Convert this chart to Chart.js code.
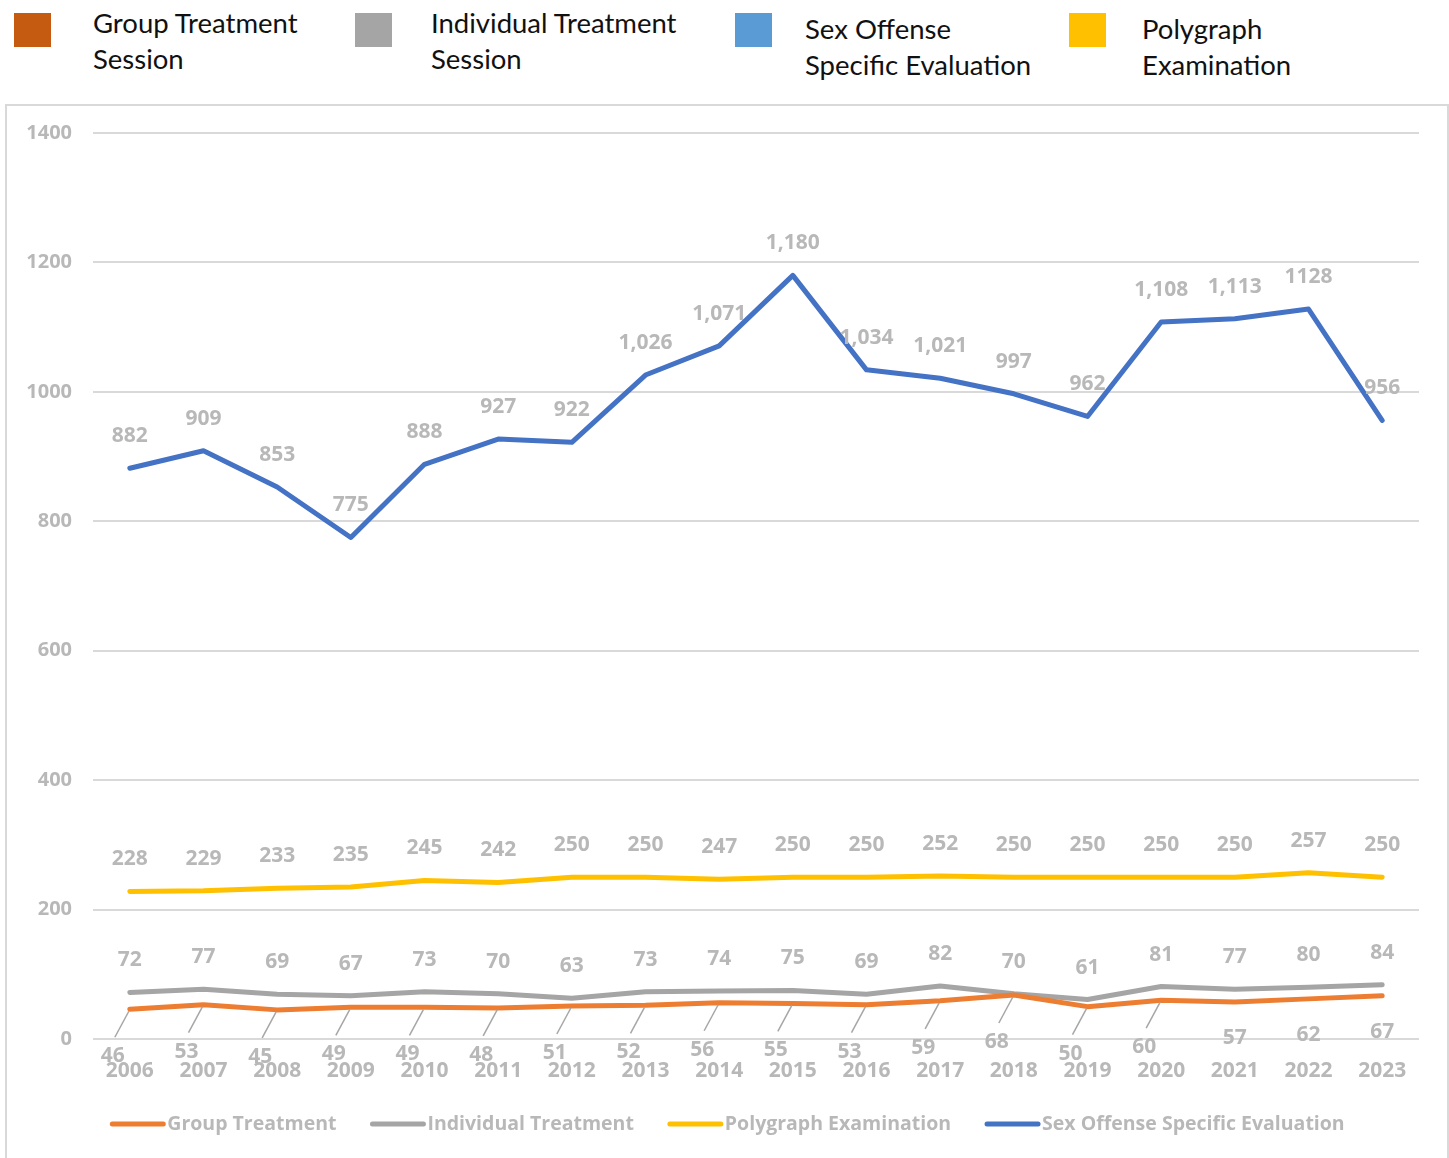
<!DOCTYPE html>
<html>
<head>
<meta charset="utf-8">
<script src="https://cdn.jsdelivr.net/npm/chart.js@4.4.1/dist/chart.umd.min.js"></script>
<style>
  html, body { margin: 0; padding: 0; background: #fff; overflow: hidden; width: 1449px; height: 1158px; }
  .key { position: absolute; font-family: Lato, 'Open Sans', sans-serif; font-size: 27.5px; line-height: 36px; color: #111; }
  .sw { position: absolute; width: 37px; height: 34px; }
  #box { position: absolute; left: 5px; top: 104px; width: 1440px; height: 1080px; border: 2px solid #d9d9d9; }
  #wrap { position: relative; width: 1440px; height: 1080px; }
</style>
</head>
<body>
<div class="sw" style="left:14px;top:13px;background:#C55A11"></div>
<div class="key" style="left:93px;top:5px">Group Treatment<br>Session</div>
<div class="sw" style="left:355px;top:13px;background:#A5A5A5"></div>
<div class="key" style="left:431px;top:5px">Individual Treatment<br>Session</div>
<div class="sw" style="left:735px;top:13px;background:#5B9BD5"></div>
<div class="key" style="left:805px;top:11px">Sex Offense<br>Specific Evaluation</div>
<div class="sw" style="left:1069px;top:13px;background:#FFC000"></div>
<div class="key" style="left:1142px;top:11px">Polygraph<br>Examination</div>

<div id="box"><div id="wrap"><canvas id="trendChart"></canvas></div></div>

<script>
const years = ['2006', '2007', '2008', '2009', '2010', '2011', '2012', '2013', '2014', '2015',
  '2016', '2017', '2018', '2019', '2020', '2021', '2022', '2023'];
const groupTreatment = [46, 53, 45, 49, 49, 48, 51, 52, 56, 55, 53, 59, 68, 50, 60, 57, 62, 67];
const individualTreatment = [72, 77, 69, 67, 73, 70, 63, 73, 74, 75, 69, 82, 70, 61, 81, 77, 80, 84];
const polygraph = [228, 229, 233, 235, 245, 242, 250, 250, 247, 250, 250, 252, 250, 250, 250, 250, 257, 250];
const evaluation = [882, 909, 853, 775, 888, 927, 922, 1026, 1071, 1180, 1034, 1021, 997, 962, 1108, 1113, 1128, 956];
const evaluationText = ['882', '909', '853', '775', '888', '927', '922', '1,026', '1,071', '1,180',
  '1,034', '1,021', '997', '962', '1,108', '1,113', '1128', '956'];

const labelGray = '#b8b8b8';
const fam = '"Open Sans", "Noto Sans", sans-serif';
const labelFont = `bold 21px ${fam}`;

// value labels, group treatment sits below its line with little leader lines
const valueLabels = {
  id: 'valueLabels',
  afterDatasetsDraw(chart) {
    const ctx = chart.ctx;
    ctx.save();
    ctx.font = labelFont;
    ctx.fillStyle = labelGray;
    ctx.textAlign = 'center';
    ctx.textBaseline = 'middle';
    chart.data.datasets.forEach((ds, i) => {
      const meta = chart.getDatasetMeta(i);
      meta.data.forEach((pt, j) => {
        const text = ds.texts ? ds.texts[j] : String(ds.data[j]);
        if (ds.below) {
          const lead = j < 15;
          const dx = lead ? -17 : 0;
          const dy = lead ? 47 : 36;
          if (lead) {
            ctx.strokeStyle = '#a6a6a6';
            ctx.lineWidth = 1.5;
            ctx.beginPath();
            ctx.moveTo(pt.x - 1, pt.y + 2);
            ctx.lineTo(pt.x - 15, pt.y + dy - 19);
            ctx.stroke();
          }
          ctx.fillText(text, pt.x + dx, pt.y + dy);
        } else {
          ctx.fillText(text, pt.x, pt.y - 32);
        }
      });
    });
    ctx.restore();
  }
};

// bottom legend: short thick line then the series name, row centred on the canvas
const lineLegend = {
  id: 'lineLegend',
  afterDraw(chart) {
    const ctx = chart.ctx;
    ctx.save();
    ctx.font = `bold 19.5px ${fam}`;
    const items = chart.data.datasets.map((ds) => ({ ds, w: 58 + ctx.measureText(ds.label).width }));
    const gap = 33;
    const total = items.reduce((s, it) => s + it.w, 0) + gap * (items.length - 1);
    let x = (chart.width - total) / 2;
    const y = chart.chartArea.bottom + 85;
    ctx.textBaseline = 'middle';
    ctx.textAlign = 'left';
    items.forEach((it) => {
      ctx.strokeStyle = it.ds.borderColor;
      ctx.lineWidth = 5;
      ctx.lineCap = 'round';
      ctx.beginPath();
      ctx.moveTo(x + 3, y);
      ctx.lineTo(x + 54, y);
      ctx.stroke();
      ctx.fillStyle = labelGray;
      ctx.fillText(it.ds.label, x + 58, y);
      x += it.w + gap;
    });
    ctx.restore();
  }
};

function series(label, data, color, extra = {}) {
  return {
    label, data,
    borderColor: color, backgroundColor: color,
    borderWidth: 5, borderCapStyle: 'round', borderJoinStyle: 'round',
    pointRadius: 0, tension: 0, fill: false,
    ...extra
  };
}

new Chart(document.getElementById('trendChart'), {
  type: 'line',
  data: {
    labels: years,
    datasets: [
      series('Group Treatment', groupTreatment, '#ED7D31', { below: true }),
      series('Individual Treatment', individualTreatment, '#A5A5A5'),
      series('Polygraph Examination', polygraph, '#FFC000'),
      series('Sex Offense Specific Evaluation', evaluation, '#4472C4', { texts: evaluationText })
    ]
  },
  options: {
    responsive: true,
    maintainAspectRatio: false,
    animation: false,
    layout: { padding: { top: 27, right: 28, bottom: 102, left: 0 } },
    plugins: {
      tooltip: { enabled: false },
      legend: { display: false }
    },
    scales: {
      x: {
        offset: true,
        grid: { display: false },
        border: { display: false },
        ticks: { color: labelGray, padding: 11, font: { family: fam, size: 21, weight: 'bold' } },
        afterFit(scale) { scale.height = 45; }
      },
      y: {
        min: 0, max: 1400,
        grid: { color: '#d9d9d9', lineWidth: 2, drawTicks: false },
        border: { display: false },
        ticks: {
          stepSize: 200, padding: 21, color: labelGray,
          font: { family: fam, size: 20, weight: 'bold' },
          callback: (v) => String(v)
        },
        afterFit(scale) {
          scale.width = 86;
          scale.paddingTop = 0;
          scale.paddingBottom = 0;
        }
      }
    }
  },
  plugins: [valueLabels, lineLegend]
});
</script>
</body>
</html>
